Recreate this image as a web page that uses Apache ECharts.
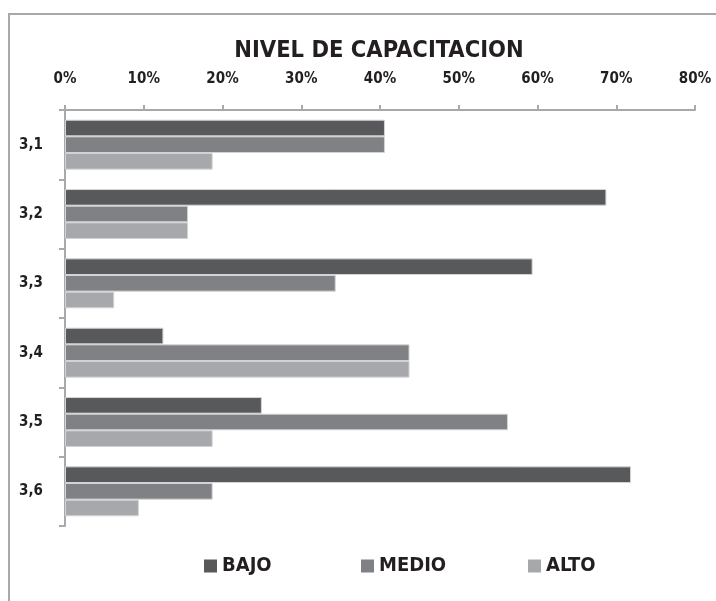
<!DOCTYPE html>
<html>
<head>
<meta charset="utf-8">
<script src="https://cdn.jsdelivr.net/npm/echarts@6/dist/echarts.min.js"></script>
<style>
  html, body { margin: 0; padding: 0; background: #fff; }
  #chart { width: 716px; height: 601px; }
</style>
</head>
<body>
<div id="chart"></div>
<script>
// datos (porcentaje)
const categorias = ['3,1', '3,2', '3,3', '3,4', '3,5', '3,6']
const bajo = [40.63, 68.75, 59.38, 12.5, 25, 71.88]
const medio = [40.63, 15.63, 34.38, 43.75, 56.25, 18.75]
const alto = [18.75, 15.63, 6.25, 43.75, 18.75, 9.38]

const fuente = "'DejaVu Sans Condensed', 'Liberation Sans Narrow', sans-serif"
const ejeColor = '#a7a9ac'
const textoColor = '#231f20'

const chart = echarts.init(document.getElementById('chart'))

const legendaBase = {
	icon: 'rect',
	itemWidth: 13,
	itemHeight: 13,
	itemGap: 0,
	padding: 0,
	top: 556,
	itemStyle: { borderWidth: 0 },
	textStyle: { fontFamily: fuente, fontWeight: 'bold', fontSize: 20, color: textoColor, padding: [7, 0, 0, 0] },
}

chart.setOption({
	animation: false,
	title: {
		text: 'NIVEL DE CAPACITACION',
		left: 374,
		textAlign: 'center',
		top: 34,
		textStyle: { fontFamily: fuente, fontWeight: 'bold', fontSize: 23.5, color: textoColor },
	},
	graphic: [
		{
			type: 'rect',
			shape: { x: 9, y: 14, width: 800, height: 700 },
			style: { fill: 'none', stroke: ejeColor, lineWidth: 2 },
		},
	],
	legend: [
		Object.assign({ left: 204, data: ['BAJO'] }, legendaBase),
		Object.assign({ left: 361, data: ['MEDIO'] }, legendaBase),
		Object.assign({ left: 528, data: ['ALTO'] }, legendaBase),
	],
	grid: { left: 65, top: 110, right: 21, bottom: 75 },
	xAxis: {
		type: 'value',
		position: 'top',
		min: 0,
		max: 80,
		interval: 10,
		splitLine: { show: false },
		axisLine: { show: true, lineStyle: { color: ejeColor, width: 2 } },
		axisTick: { show: true, length: 5, lineStyle: { color: ejeColor, width: 2 } },
		axisLabel: {
			margin: 23,
			formatter: '{value}%',
			fontFamily: fuente,
			fontWeight: 'bold',
			fontSize: 15,
			color: textoColor,
		},
	},
	yAxis: {
		type: 'category',
		inverse: true,
		data: categorias,
		axisLine: { show: true, lineStyle: { color: ejeColor, width: 2 } },
		axisTick: { show: true, length: 6, lineStyle: { color: ejeColor, width: 2 } },
		axisLabel: {
			margin: 22,
			fontFamily: fuente,
			fontWeight: 'bold',
			fontSize: 15,
			color: textoColor,
		},
	},
	series: [
		{ name: 'BAJO', data: bajo, color: '#58595b' },
		{ name: 'MEDIO', data: medio, color: '#808184' },
		{ name: 'ALTO', data: alto, color: '#a7a8ab' },
	].map(s => ({
		type: 'bar',
		name: s.name,
		data: s.data,
		barGap: '0%',
		barCategoryGap: '28%',
		itemStyle: { color: s.color, borderColor: '#d4d4d6', borderWidth: 1 },
	})),
})
</script>
</body>
</html>
